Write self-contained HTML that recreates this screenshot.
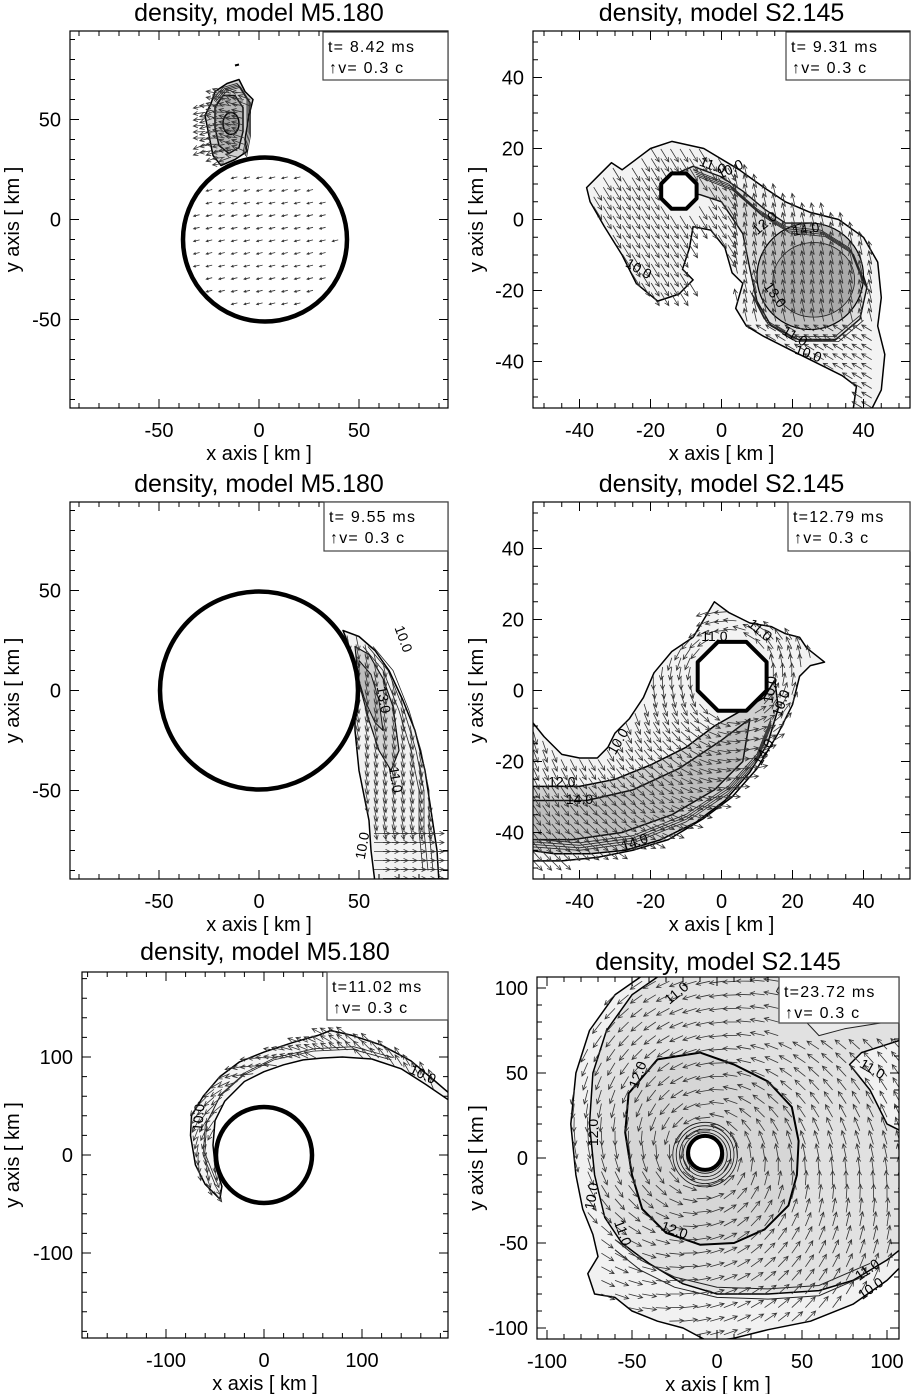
<!DOCTYPE html>
<html><head><meta charset="utf-8">
<style>
html,body{margin:0;padding:0;background:#fff;}
svg{display:block;font-family:"Liberation Sans",sans-serif;}
</style></head>
<body>
<svg id="fig" width="911" height="1394" viewBox="0 0 911 1394" xmlns="http://www.w3.org/2000/svg"></svg>
<script>
const NS='http://www.w3.org/2000/svg';
const svg=document.getElementById('fig');
// tick label arrays
const ticksA=[-50,0,50];
const ticksB=[-40,-20,0,20,40];
const ticksE=[-100,0,100];
const ticksF=[-100,-50,0,50,100];
const titles=['density, model M5.180','density, model S2.145','density, model M5.180','density, model S2.145','density, model M5.180','density, model S2.145'];
const times=['t= 8.42 ms','t= 9.31 ms','t= 9.55 ms','t=12.79 ms','t=11.02 ms','t=23.72 ms'];

const panels=[
 {x0:70,x1:448,y0:31,y1:408,cx:259,cy:219.5,s:2,ticks:ticksA,minor:10,ty:21,box:[323,32,448,80]},
 {x0:533,x1:910,y0:31,y1:408,cx:721.5,cy:219.5,s:3.55,ticks:ticksB,minor:5,ty:21,box:[786,32,910,80]},
 {x0:70,x1:448,y0:502,y1:879,cx:259,cy:690.5,s:2,ticks:ticksA,minor:10,ty:492,box:[324,502,448,551]},
 {x0:533,x1:910,y0:502,y1:879,cx:721.5,cy:690.5,s:3.55,ticks:ticksB,minor:5,ty:492,box:[788,502,910,551]},
 {x0:82,x1:448,y0:972,y1:1338,cx:264,cy:1155,s:0.98,ticks:ticksE,minor:20,ty:960,box:[327,972,448,1020]},
 {x0:537,x1:899,y0:977,y1:1339,cx:717,cy:1158,s:1.7,ticks:ticksF,minor:10,ty:970,box:[779,977,899,1023]}
];

function mk(tag,attrs,parent){const e=document.createElementNS(NS,tag);for(const k in attrs)e.setAttribute(k,attrs[k]);(parent||svg).appendChild(e);return e;}
function inPoly(x,y,pts){let c=false;for(let i=0,j=pts.length-1;i<pts.length;j=i++){const [xi,yi]=pts[i],[xj,yj]=pts[j];if(((yi>y)!=(yj>y))&&(x<(xj-xi)*(y-yi)/(yj-yi)+xi))c=!c;}return c;}

function setup(p){
  p.X=x=>p.cx+p.s*x; p.Y=y=>p.cy-p.s*y;
  p.path=(pts,close)=>pts.map((q,i)=>(i?'L':'M')+p.X(q[0]).toFixed(1)+','+p.Y(q[1]).toFixed(1)).join('')+(close===false?'':'Z');
  const g=mk('g',{});
  
  
  const cp=mk('clipPath',{id:'clip'+panels.indexOf(p)},g);
  mk('rect',{x:p.x0,y:p.y0,width:p.x1-p.x0,height:p.y1-p.y0},cp);
  p.g=g;
  p.c=mk('g',{'clip-path':'url(#clip'+panels.indexOf(p)+')'},g);
  return p;
}
function shape(p,pts,fill,stroke,sw,name){
  const e=mk('path',{d:p.path(pts),fill:fill,stroke:stroke,'stroke-width':sw,'stroke-linejoin':'round'},p.c);
  
  
  return e;
}
function circ(p,x,y,r,fill,stroke,sw,name){
  const e=mk('circle',{cx:p.X(x),cy:p.Y(y),r:r*p.s,fill:fill,stroke:stroke,'stroke-width':sw},p.c);
  
  
  return e;
}
function ell(p,x,y,rx,ry,fill,stroke,sw,name){
  const e=mk('ellipse',{cx:p.X(x),cy:p.Y(y),rx:rx*p.s,ry:ry*p.s,fill:fill,stroke:stroke,'stroke-width':sw},p.c);
  
  
  return e;
}
function octa(p,x,y,r,sw,name){
  const pts=[];for(let i=0;i<8;i++){const a=Math.PI/8+i*Math.PI/4;pts.push([x+r*Math.cos(a),y+r*Math.sin(a)]);}
  return shape(p,pts,'#fff','#000',sw,name);
}
function arrow(p,x,y,vx,vy,col,sw){
  const x1=p.X(x),y1=p.Y(y),x2=x1+vx,y2=y1-vy;
  const a=Math.atan2(y2-y1,x2-x1),h=Math.min(5,Math.hypot(vx,vy)*0.4);
  const d='M'+x1.toFixed(1)+','+y1.toFixed(1)+'L'+x2.toFixed(1)+','+y2.toFixed(1)+
   'M'+(x2-h*Math.cos(a-0.45)).toFixed(1)+','+(y2-h*Math.sin(a-0.45)).toFixed(1)+'L'+x2.toFixed(1)+','+y2.toFixed(1)+
   'L'+(x2-h*Math.cos(a+0.45)).toFixed(1)+','+(y2-h*Math.sin(a+0.45)).toFixed(1);
  const e=mk('path',{d:d,fill:'none',stroke:col||'#333','stroke-width':sw||0.8},p.c);
  
  
}
function field(p,xa,xb,ya,yb,step,test,vec){
  for(let x=xa;x<=xb;x+=step)for(let y=ya;y<=yb;y+=step){if(test(x,y)){const v=vec(x,y);arrow(p,x,y,v[0],v[1]);}}
}
function clabel(p,x,y,txt,rot){
  const e=mk('text',{x:p.X(x),y:p.Y(y),'font-size':14,transform:'rotate('+rot+' '+p.X(x)+' '+p.Y(y)+')','text-anchor':'middle'},p.c);
  e.textContent=txt;
  
  
}
function contours(p,pts,n,dx,dy,sw,name){
  for(let k=0;k<n;k++){
    const q=pts.map(v=>[v[0]+dx*k,v[1]+dy*k]);
    const e=mk('path',{d:p.path(q,false),fill:'none',stroke:'#222','stroke-width':sw},p.c);
    
    
  }
}
panels.forEach(setup);

/* ---------- Panel A ---------- */
(function(){const p=panels[0];
 const blob=[[-24,58],[-22,64],[-16,68],[-10,70],[-7,64],[-3,60],[-5,52],[-7,40],[-6,34],[-12,30],[-19,27],[-23,32],[-25,42],[-27,52]];
 shape(p,blob,'#d0d0d0','#000',1.5,'blob-outer-contour');
 shape(p,[[-22,56],[-18,62],[-12,62],[-8,56],[-8,44],[-10,36],[-15,33],[-20,37],[-22,46]],'#b4b4b4','#111',1.5,'blob-mid-contour');
 ell(p,-14,48,4,5.5,'#a0a0a0','#000',1.5,'blob-core');
 contours(p,[[-23,60],[-18,66],[-11,68],[-6,60],[-6,44],[-8,33]],4,0.6,-0.6,0.8,'blob-contour');
 mk('path',{d:p.path([[-12,77],[-10,77.5]],false),stroke:'#000','stroke-width':2},p.c);
 field(p,-30,-4,28,66,3.2,(x,y)=>inPoly(x,y,blob)||(x<-20&&x>-30&&y>32&&y<60),(x,y)=>[-12,2+((x*7+y*3)%5)-2]);
 circ(p,3,-10,41,'#fff','#000',4.5,'neutron-star-boundary');
 field(p,-36,42,-48,28,6.3,(x,y)=>Math.hypot(x-3,y+10)<37,(x,y)=>[-6,-1.5]);
})();

/* ---------- Panel B ---------- */
(function(){const p=panels[1];
 const env=[[-38,9],[-34,13],[-31,16],[-28,14],[-24,17],[-20,20],[-14,22],[-5,20],[5,14],[12,9],[18,5],[25,2],[33,0],[40,-5],[44,-12],[45,-22],[44,-30],[46,-38],[45,-48],[42,-54],[37,-54],[38,-47],[34,-44],[30,-42],[20,-37],[12,-33],[7,-30],[4,-25],[6,-18],[3,-15],[1,-8],[-3,-3],[-8,-2],[-9,-8],[-11,-14],[-8,-17],[-12,-21],[-18,-23],[-24,-18],[-28,-10],[-33,-2],[-37,5]];
 shape(p,env,'#f3f3f3','#000',1.5,'envelope-contour-10');
 const band=[[-15,12],[-8,15],[0,12],[6,8],[12,3],[18,-1],[25,-1],[33,-4],[38,-10],[41,-19],[39,-28],[32,-34],[22,-34],[14,-30],[10,-23],[8,-14],[6,-4],[0,5],[-6,7],[-12,8]];
 shape(p,band,'#dcdcdc','#111',1.4,'tidal-bridge-contour-12');
 ell(p,25,-16,15,15,'#bdbdbd','#000',1.2,'star-contour-14');
 ell(p,26,-17,11.5,10.5,'#aaaaaa','#222',0.8,'star-core');
 contours(p,[[-8,14],[2,10],[10,3],[18,-2],[28,-3],[36,-8],[40,-18]],4,0.4,-0.6,0.8,'bridge-contour');
 contours(p,[[8,-20],[12,-28],[20,-33],[32,-33],[39,-27]],3,0.5,-0.7,0.8,'star-lower-contour');
 field(p,-36,45,-53,20,2.7,(x,y)=>inPoly(x,y,env)&&Math.hypot(x+12,y-8)>6,
  (x,y)=>x<3?[8,-13]:(y<-30?[-10,6]:[-3,13]));
 octa(p,-12,8,5.4,4,'companion-core');
 clabel(p,-3,14,'11.0',20);clabel(p,3,13,'10.0',-25);clabel(p,13,-2,'12.0',-40);clabel(p,24,-4,'14.0',-10);
 clabel(p,-24,-15,'10.0',30);clabel(p,14,-22,'13.0',55);clabel(p,20,-34,'11.0',30);clabel(p,24,-39,'10.0',20);
})();

/* ---------- Panel C ---------- */
(function(){const p=panels[2];
 const band=[[42,30],[50,27],[58,20],[65,10],[72,-5],[78,-20],[83,-40],[86,-60],[89,-80],[90,-96],[58,-96],[56,-80],[55,-65],[52,-50],[50,-40],[48,-20],[48,0],[46,15],[44,25]];
 shape(p,band,'#f2f2f2','#000',1.5,'stream-contour-10');
 shape(p,[[48,22],[55,18],[62,6],[67,-8],[70,-30],[66,-40],[60,-30],[55,-15],[51,0],[49,12]],'#d4d4d4','#111',1.2,'stream-contour-11');
 shape(p,[[50,15],[56,8],[60,-5],[62,-20],[58,-16],[53,-5],[50,5]],'#bcbcbc','#111',1,'stream-contour-13');
 contours(p,[[52,22],[62,10],[70,-10],[76,-30],[80,-50],[80,-70],[82,-90]],3,2.5,0,0.8,'stream-contour');
 field(p,44,90,-94,28,4.5,(x,y)=>inPoly(x,y,band),(x,y)=>y>-70?[3,-15]:[16,0]);
 circ(p,0,0,49.5,'#fff','#000',4.5,'neutron-star-boundary');
 clabel(p,70,25,'10.0',70);clabel(p,60,-5,'13.0',80);clabel(p,66,-45,'11.0',80);clabel(p,54,-78,'10.0',-80);
})();

/* ---------- Panel D ---------- */
(function(){const p=panels[3];
 const env=[[-54,-8],[-50,-13],[-45,-18],[-40,-19],[-35,-19],[-32,-16],[-30,-12],[-26,-8],[-22,-2],[-19,5],[-14,11],[-8,15],[-5,20],[-2,25],[2,22],[8,19],[14,18],[18,16],[22,15],[24,12],[29,8],[25,7],[22,4],[20,-4],[16,-12],[10,-22],[3,-30],[-5,-36],[-15,-42],[-25,-45],[-35,-47],[-45,-48],[-54,-48]];
 shape(p,env,'#f3f3f3','#000',1.5,'envelope-contour-10');
 const arm=[[-54,-27],[-40,-27],[-30,-25],[-20,-21],[-10,-16],[-2,-10],[5,-6],[12,-2],[15,3],[16,-5],[13,-15],[8,-23],[1,-31],[-7,-37],[-17,-42],[-27,-45],[-37,-46],[-47,-46],[-54,-45]];
 shape(p,arm,'#cfcfcf','#000',1.5,'arm-contour-12');
 shape(p,[[-54,-31],[-38,-31],[-25,-28],[-12,-22],[0,-14],[8,-8],[6,-20],[-2,-28],[-14,-35],[-28,-40],[-42,-42],[-54,-42]],'#bdbdbd','#111',1.5,'arm-contour-14');
 contours(p,[[-54,-44],[-40,-45],[-25,-43],[-10,-37],[2,-29],[10,-20],[14,-10]],4,0,0.7,0.8,'arm-contour');
 field(p,-53,28,-48,25,2.6,(x,y)=>inPoly(x,y,env)&&Math.hypot(x-3,y-4)>11.5,
  (x,y)=>{const dx=x-3,dy=y-4,r=Math.hypot(dx,dy)||1;return [-dy/r*13,dx/r*13];});
 octa(p,3,4,10.5,4,'companion-core');
 clabel(p,-2,14,'11.0',0);clabel(p,10,16,'11.0',40);clabel(p,15,0,'10.0',-80);clabel(p,18,-4,'10.0',-70);
 clabel(p,-28,-15,'10.0',-60);clabel(p,-45,-27,'12.0',0);clabel(p,-40,-32,'14.0',0);clabel(p,13,-18,'14.0',-60);clabel(p,-24,-44,'14.0',-20);
})();

/* ---------- Panel E ---------- */
(function(){const p=panels[4];
 const arm=[[-45,-45],[-60,-30],[-70,-10],[-75,20],[-74,40],[-62,60],[-45,80],[-25,95],[0,105],[30,115],[55,122],[68,127],[90,122],[120,112],[150,96],[175,75],[190,62],[190,55],[165,72],[140,88],[110,98],[80,100],[60,99],[40,97],[20,92],[0,85],[-20,75],[-40,55],[-50,35],[-52,10],[-50,-10],[-43,-32]];
 shape(p,arm,'#f5f5f5','#000',1.5,'stream-contour-10');
 contours(p,[[-50,-30],[-62,0],[-60,30],[-45,60],[-20,82],[10,97],[50,106],[90,108],[130,97]],2,1.5,2.5,0.8,'stream-contour');
 field(p,-75,180,-45,128,8,(x,y)=>inPoly(x,y,arm),(x,y)=>{const r=Math.hypot(x,y)||1;return [-y/r*13,x/r*13];});
 circ(p,0,0,49,'#fff','#000',4.5,'neutron-star-boundary');
 clabel(p,-62,38,'10.0',-85);clabel(p,160,78,'10.0',25);
})();

/* ---------- Panel F ---------- */
(function(){const p=panels[5];
 const env=[[-40,110],[-60,96],[-75,75],[-83,50],[-86,20],[-83,-10],[-79,-30],[-73,-45],[-70,-58],[-76,-68],[-72,-80],[-60,-82],[-50,-90],[-35,-96],[-20,-100],[-5,-108],[10,-106],[30,-101],[55,-96],[80,-86],[100,-72],[110,-62],[110,110]];
 shape(p,env,'#f1f1f1','#000',1.5,'envelope-contour-10');
 const mid=[[-30,110],[-50,96],[-65,75],[-73,50],[-75,20],[-72,-10],[-66,-35],[-56,-50],[-40,-62],[-20,-74],[0,-80],[30,-80],[60,-78],[80,-72],[100,-60],[110,-52],[110,15],[100,20],[90,40],[78,55],[85,62],[110,70],[110,110]];
 shape(p,mid,'#e1e1e1','#000',1.5,'contour-11');
 shape(p,[[60,72],[75,76],[100,80],[110,82],[110,108],[40,108],[35,98],[45,88]],'#eaeaea','#222',1,'contour-11-top');
 const core=[[-52,38],[-35,58],[-10,62],[10,55],[30,45],[44,30],[48,10],[47,-10],[42,-28],[28,-42],[10,-50],[-10,-51],[-30,-44],[-44,-30],[-50,-10],[-54,15]];
 shape(p,core,'#d6d6d6','#000',2,'contour-12');
 contours(p,[[-60,-48],[-45,-60],[-25,-70],[0,-76],[30,-77],[60,-75],[90,-62]],2,0,-6,1,'outer-contour');
 field(p,-84,108,-104,108,8,(x,y)=>inPoly(x,y,env)&&Math.hypot(x+7,y-3)>13&&!(x>36&&y>68),
  (x,y)=>{const dx=x+7,dy=y-3,r=Math.hypot(dx,dy)||1;return [(-dy/r-0.25*dx/r)*14,(dx/r-0.25*dy/r)*14];});
 for(let r=11;r<=19;r+=2)circ(p,-7,2,r,'none','#111',0.8,'inner-contour');
 circ(p,-7,3,10,'#fff','#000',4,'central-hole');
 clabel(p,-22,95,'11.0',-40);clabel(p,-44,48,'12.0',-70);clabel(p,-70,15,'12.0',-90);clabel(p,-71,-23,'10.0',-80);
 clabel(p,-58,-45,'11.0',70);clabel(p,-26,-45,'12.0',20);clabel(p,90,50,'11.0',30);clabel(p,90,-68,'11.0',-35);clabel(p,92,-79,'10.0',-35);
})();

/* ---------- frames, ticks, labels ---------- */
panels.forEach((p,i)=>{
  const g=p.g;
  const fr=mk('rect',{x:p.x0,y:p.y0,width:p.x1-p.x0,height:p.y1-p.y0,fill:'none',stroke:'#000','stroke-width':1.2},g);
  
  
  let d='';
  const xmin=(p.x0-p.cx)/p.s,xmax=(p.x1-p.cx)/p.s,ymin=(p.cy-p.y1)/p.s,ymax=(p.cy-p.y0)/p.s;
  for(let v=Math.ceil(xmin/p.minor)*p.minor;v<=xmax;v+=p.minor){const L=p.ticks.includes(v)?9:5;const x=p.X(v);d+='M'+x+','+p.y1+'v-'+L+'M'+x+','+p.y0+'v'+L;}
  for(let v=Math.ceil(ymin/p.minor)*p.minor;v<=ymax;v+=p.minor){const L=p.ticks.includes(v)?9:5;const y=p.Y(v);d+='M'+p.x0+','+y+'h'+L+'M'+p.x1+','+y+'h-'+L;}
  const tk=mk('path',{d:d,stroke:'#000','stroke-width':1,fill:'none'},g);
  
  
  p.ticks.forEach(v=>{
    const tx=mk('text',{x:p.X(v),y:p.y1+29,'font-size':20,'text-anchor':'middle'},g);
    tx.textContent=String(v);
    
    
    const ty=mk('text',{x:p.x0-9,y:p.Y(v)+7,'font-size':20,'text-anchor':'end'},g);
    ty.textContent=String(v);
    
    
  });
  const mx=(p.x0+p.x1)/2,my=(p.y0+p.y1)/2;
  const xt=mk('text',{x:mx,y:p.y1+52,'font-size':20,'text-anchor':'middle'},g);
  xt.textContent='x axis [ km ]';
  
  
  const yx=(i%2===0)?19:483;
  const yt=mk('text',{x:yx,y:my,'font-size':20,'text-anchor':'middle',transform:'rotate(-90 '+yx+' '+my+')'},g);
  yt.textContent='y axis [ km ]';
  
  
  const tt=mk('text',{x:mx,y:p.ty,'font-size':25,'text-anchor':'middle'},g);
  tt.textContent=titles[i];
  
  
  const b=p.box;
  const bx=mk('rect',{x:b[0],y:b[1],width:b[2]-b[0],height:b[3]-b[1],fill:'#fff',stroke:'#444','stroke-width':1.2},g);
  
  
  const t1=mk('text',{x:b[0]+5,y:b[1]+20,'font-size':16,'letter-spacing':'1.2'},g);
  t1.textContent=times[i];
  
  
  const t2=mk('text',{x:b[0]+6,y:b[1]+41,'font-size':16,'letter-spacing':'1.2'},g);
  t2.textContent='↑v= 0.3 c';
  
  
});
</script>
</body></html>
